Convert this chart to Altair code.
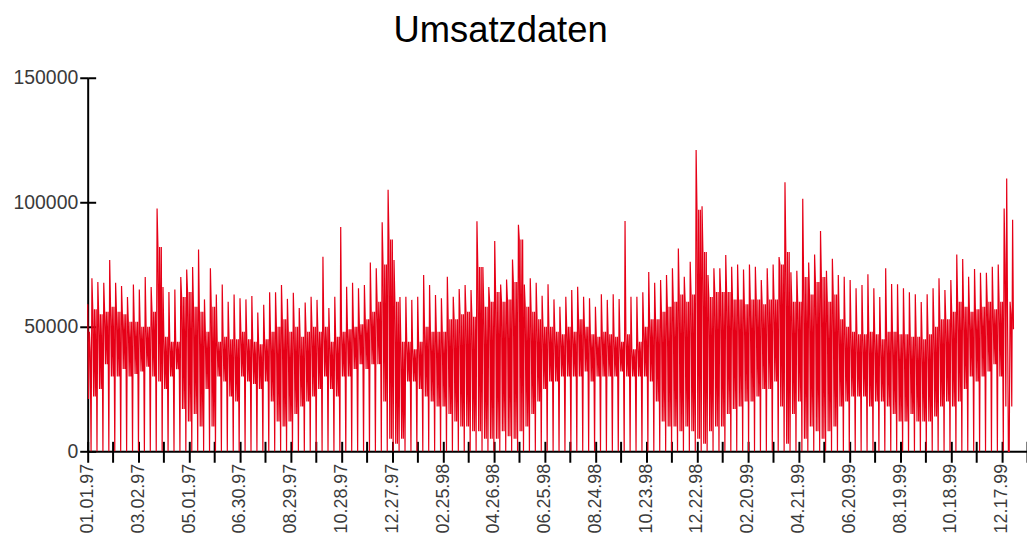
import altair as alt
import pandas as pd

# Weekly readings (in thousands) for the weeks starting Sunday 05.01.97 (day 4)
peak = [69.5, 68, 67.7, 76.8, 67.7, 66.4, 62, 67, 65, 70, 66, 97.5,
        66, 64, 65, 70, 73, 74, 81, 61, 73.5, 63, 67, 60, 63, 61.5,
        61, 62.4, 55.7, 58.8, 63.9, 63.9, 66.8, 61.2, 63.7, 57.5, 59.7, 62.1, 60.8, 78.1,
        57.5, 62.1, 90.1, 66.1, 67.7, 65.5, 66.8, 75.8, 73.5, 92, 105, 76.8, 62,
        62.1, 60.8, 62.1, 70.8, 66.8, 62.8, 61.5, 70.1, 62.1, 65.2, 66.8, 64.8, 92.4,
        74, 66, 84.4, 67, 69, 77, 91, 67, 69.5, 67.7, 62.5, 67.1, 61, 58,
        62.1, 64.8, 66.1, 62.1, 61.5, 58, 63.1, 60.8, 63.1, 61.2, 92.5, 62.1, 62.1,
        63.9, 72, 67.7, 68.8, 70.8, 73.5, 81.4, 70.1, 76.1, 121, 98.4, 70.8, 73.5,
        73.5, 78.8, 74.1, 75, 73, 75, 74.1, 68.8, 73.5, 75, 78, 108, 71.9, 72.5,
        101.4, 75.8, 79, 88.5, 72.5, 77.3, 70.8, 70.1, 68.8, 65.5, 66.8, 71.1, 65.5, 62,
        73.5, 67.2, 67.1, 65.5, 63.9, 63.1, 59.9, 63.1, 65.5, 69.5, 64.8, 68.8, 79,
        77.2, 70.1, 73.2, 71.7, 71.7, 74.1, 75, 97.5, 60]
top = [57, 55, 56, 58, 56, 55, 52, 52, 50, 50, 56, 82,
       46, 44, 44, 62, 64, 58, 56, 48, 58, 44, 46, 45, 45, 48,
       45, 44, 43, 45, 48, 50, 53, 48, 50, 46, 48, 50, 48, 50,
       44, 46, 48, 49, 50, 51, 53, 56, 60, 75, 85, 60, 44,
       44, 41, 44, 50, 48, 48, 48, 53, 53, 55, 56, 54, 74,
       58, 60, 64, 60, 61, 68, 85, 58, 56, 53, 50, 50, 48, 47,
       50, 48, 53, 50, 47, 46, 48, 47, 46, 44, 47, 41, 44,
       50, 53, 53, 56, 58, 60, 63, 60, 63, 97, 80, 62, 64,
       64, 64, 61, 61, 59, 61, 61, 59, 61, 61, 75, 80, 60, 60,
       70, 63, 68, 70, 60, 63, 53, 50, 48, 47, 47, 48, 47, 45,
       48, 48, 47, 47, 46, 46, 45, 47, 50, 53, 53, 56, 60,
       58, 56, 57, 58, 60, 57, 60, 75, 55]
bottom = [22, 25, 35, 30, 30, 33, 30, 31, 32, 34, 30, 28,
          25, 30, 33, 17, 12, 15, 10, 25, 10, 30, 28, 22, 20, 30,
          28, 27, 25, 28, 20, 12, 10, 12, 15, 18, 20, 22, 25, 30,
          25, 22, 30, 30, 33, 35, 33, 35, 35, 20, 5, 3, 5,
          28, 28, 25, 22, 20, 18, 18, 15, 12, 10, 10, 8, 8,
          5, 5, 5, 8, 6, 5, 8, 10, 15, 20, 25, 28, 28, 30,
          30, 30, 30, 32, 28, 30, 30, 30, 30, 32, 30, 30, 30,
          30, 28, 20, 12, 10, 10, 8, 10, 8, 5, 3, 8, 10,
          10, 15, 17, 18, 20, 20, 22, 25, 25, 28, 18, 3, 15, 20,
          5, 10, 8, 5, 8, 10, 18, 20, 22, 22, 22, 18, 20, 20,
          18, 15, 12, 12, 15, 12, 12, 12, 14, 18, 20, 18, 20,
          25, 30, 28, 30, 32, 35, 30, 18, 18]
first_days = [59, 21, 48, 40]          # Wed 01.01.97 .. Sat 04.01.97
overrides = {1086: 109.5, 1087: 55, 1088: 0, 1093: 93, 1094: 49}
n_days = 1095

tick_days = list(range(0, 1111, 30))
y_ticks = [0, 50000, 100000, 150000]

vals = list(first_days)
for p, t, b in zip(peak, top, bottom):
    vals += [0, p, t, b, t, b, t]
vals = vals[:n_days]
for d, v in overrides.items():
    vals[d] = v
df = pd.DataFrame({"day": list(range(n_days)), "umsatz": [v * 1000 for v in vals]})

FONT = "Liberation Sans"
W, H = 943, 375

xscale = alt.Scale(domain=[0, 1110], nice=False, zero=False)
yscale = alt.Scale(domain=[0, 150000], nice=False)

label_expr = ("datum.value % 60 == 0 ? timeFormat(datetime(1997, 0, 1 + datum.value), '%m.%d.%y') : ''")

line = alt.Chart(df).mark_line(color="#e60017", strokeWidth=1.2, interpolate="linear").encode(
    x=alt.X("day:Q", scale=xscale,
            axis=alt.Axis(orient="bottom", values=tick_days, labelExpr=label_expr, title=None,
                          labelAngle=270, labelFont=FONT, labelFontSize=18, labelColor="#3a3a3a",
                          labelPadding=1, tickSize=11, tickWidth=2, tickColor="black",
                          domainColor="black", domainWidth=2, grid=False, labelOverlap=False,
                          labelFlush=False)),
    y=alt.Y("umsatz:Q", scale=yscale,
            axis=alt.Axis(orient="left", values=y_ticks, format="d", title=None,
                          labelFont=FONT, labelFontSize=19.5, labelColor="#3a3a3a",
                          labelPadding=2, tickSize=8, tickWidth=2, tickColor="black",
                          domainColor="black", domainWidth=2, grid=False)),
)

ghost = alt.Chart(df).mark_line(strokeOpacity=0).encode(
    x=alt.X("day:Q", scale=xscale,
            axis=alt.Axis(orient="top", offset=-H, values=tick_days, labels=False, domain=False,
                          title=None, tickSize=10, tickWidth=2, tickColor="black", grid=False)),
    y=alt.Y("umsatz:Q", scale=yscale,
            axis=alt.Axis(orient="right", offset=-W, values=y_ticks, labels=False, domain=False,
                          title=None, tickSize=8, tickWidth=2, tickColor="black", grid=False)),
)

chart = alt.layer(line, ghost).resolve_axis(x="independent", y="independent").properties(
    width=W, height=H,
    background="white",
    title=alt.TitleParams("Umsatzdaten", font=FONT, fontSize=36.5, fontWeight="normal",
                          color="black", anchor="middle", frame="group", dx=-57, offset=18),
    autosize=alt.AutoSizeParams(type="none"),
    padding={"left": 80, "top": 69, "right": 0, "bottom": 81},
).configure_view(stroke=None, strokeWidth=0)

chart.save("out.html", embed_options={"renderer": "svg", "actions": False})
